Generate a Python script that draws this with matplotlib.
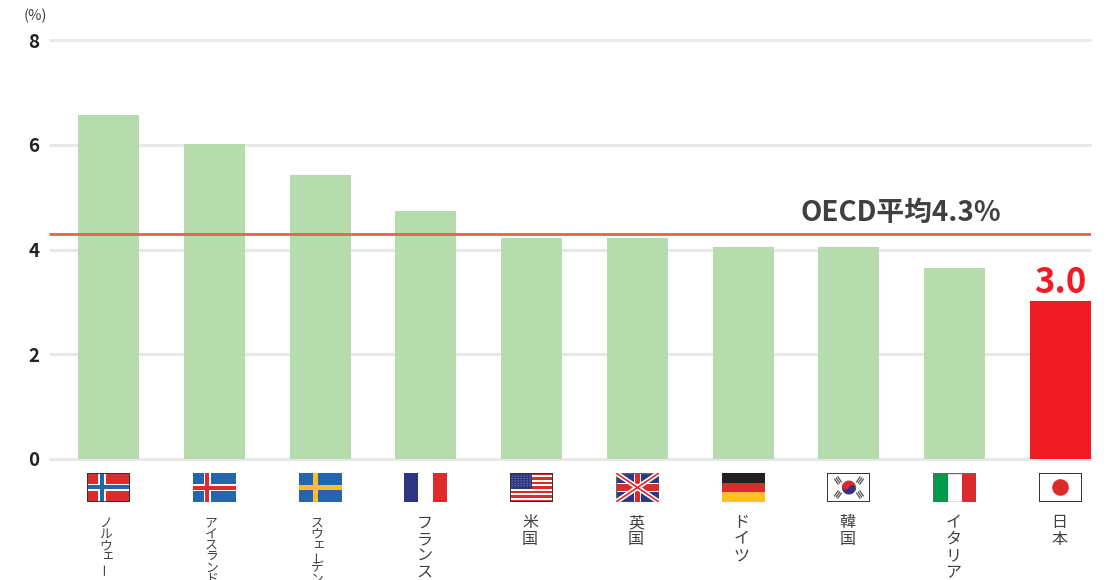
import numpy as np
import matplotlib
matplotlib.use('Agg')
import matplotlib.pyplot as plt
from matplotlib.patches import Rectangle, Circle, Wedge

plt.rcParams['font.family'] = ['Noto Sans CJK JP', 'DejaVu Sans']

countries = ['ノルウェー', 'アイスランド', 'スウェーデン', 'フランス', '米国',
             '英国', 'ドイツ', '韓国', 'イタリア', '日本']
values = [6.56, 6.01, 5.42, 4.73, 4.22, 4.22, 4.05, 4.05, 3.64, 3.01]
flags = ['no', 'is', 'se', 'fr', 'us', 'uk', 'de', 'kr', 'it', 'jp']
yticks = [0, 2, 4, 6, 8]
oecd_avg = 4.3
oecd_label = 'OECD平均4.3%'
japan_label = '3.0'
unit_label = '(%)'

GREEN = '#B6DBAD'
RED = '#EF1C25'
GRID = '#E8E8E8'
TEXT = '#404040'
FRED = '#DD2A2A'
FBLUE = '#2565AE'
NAVY = '#2E3683'
YEL = '#FCBF2A'
DARK = '#231F20'


def rect(a, x, y, w, h, c):
    a.add_patch(Rectangle((x, y), w, h, fc=c, ec='none'))


def draw_flag(a, code):
    # flag is drawn in 43x29 units
    if code == 'no':
        rect(a, 0, 0, 43, 29, FRED)
        rect(a, 11, 0, 8, 29, 'white')
        rect(a, 0, 11, 43, 7, 'white')
        rect(a, 13, 0, 4, 29, FBLUE)
        rect(a, 0, 12.8, 43, 3.8, FBLUE)
    elif code == 'is':
        rect(a, 0, 0, 43, 29, FBLUE)
        rect(a, 11, 0, 7, 29, 'white')
        rect(a, 0, 11, 43, 7, 'white')
        rect(a, 12.5, 0, 4, 29, FRED)
        rect(a, 0, 12.5, 43, 4, FRED)
    elif code == 'se':
        rect(a, 0, 0, 43, 29, FBLUE)
        rect(a, 14, 0, 5.5, 29, YEL)
        rect(a, 0, 12, 43, 5, YEL)
    elif code == 'fr':
        rect(a, 0, 0, 14, 29, NAVY)
        rect(a, 29, 0, 14, 29, FRED)
    elif code == 'us':
        rect(a, 0, 0, 43, 29, 'white')
        for k in range(0, 13, 2):
            rect(a, 0, 29 - (k + 1) * 29 / 13, 43, 29 / 13, FRED)
        rect(a, 0, 29 - 16, 22, 16, NAVY)
        for row in range(6):
            for col in range(7):
                a.add_patch(Circle((2 + col * 3, 15 + 1.3 + row * 2.4), 0.45, fc='#C8CCE8', ec='none'))
    elif code == 'uk':
        rect(a, 0, 0, 43, 29, NAVY)
        a.plot([0, 43], [0, 29], color='white', lw=3.6, solid_capstyle='butt')
        a.plot([0, 43], [29, 0], color='white', lw=3.6, solid_capstyle='butt')
        a.plot([0, 43], [0, 29], color=FRED, lw=1.2, solid_capstyle='butt')
        a.plot([0, 43], [29, 0], color=FRED, lw=1.2, solid_capstyle='butt')
        rect(a, 18, 0, 7, 29, 'white')
        rect(a, 0, 10, 43, 9, 'white')
        rect(a, 19, 0, 5, 29, FRED)
        rect(a, 0, 11, 43, 7, FRED)
    elif code == 'de':
        rect(a, 0, 19.4, 43, 9.6, DARK)
        rect(a, 0, 9.7, 43, 9.7, FRED)
        rect(a, 0, 0, 43, 9.7, YEL)
    elif code == 'kr':
        rect(a, 0, 0, 43, 29, 'white')
        a.add_patch(Wedge((21.5, 14.5), 7, -20, 160, fc=FRED, ec='none'))
        a.add_patch(Wedge((21.5, 14.5), 7, 160, 340, fc=NAVY, ec='none'))
        a.add_patch(Circle((18.2, 15.7), 3.5, fc=FRED, ec='none'))
        a.add_patch(Circle((24.8, 13.3), 3.5, fc=NAVY, ec='none'))
        for cx, cy, ang in [(10.5, 21.5, -55), (32.5, 21.5, 55), (10.5, 7.5, 55), (32.5, 7.5, -55)]:
            t = np.deg2rad(ang)
            ux, uy = np.cos(t), np.sin(t)
            for off in (-2, 0, 2):
                bx = cx + off * uy
                by = cy - off * ux
                a.plot([bx - 3 * ux, bx + 3 * ux], [by - 3 * uy, by + 3 * uy], color='#555555', lw=0.9)
    elif code == 'it':
        rect(a, 0, 0, 14.3, 29, '#009A4E')
        rect(a, 28.7, 0, 14.3, 29, FRED)
    elif code == 'jp':
        rect(a, 0, 0, 43, 29, 'white')
        a.add_patch(Circle((21.5, 14.5), 8.3, fc=FRED, ec='none'))
    if code in ('no', 'us', 'kr', 'jp'):
        a.add_patch(Rectangle((0, 0), 43, 29, fc='none', ec='#333333', lw=1.4))
    elif code in ('uk', 'it'):
        a.add_patch(Rectangle((0, 0), 43, 29, fc='none', ec='#666666', lw=1.0))


def vertical_label(ax, x, text, pitch, size, shift):
    # matplotlib has no vertical writing mode, so stack the characters
    for n, ch in enumerate(text):
        rot = 90 if ch == 'ー' else 0
        dx = shift + (1.5 if ch == 'ェ' else 0)
        ax.annotate(ch, xy=(x, 0), xycoords='data', xytext=(dx, -64 - n * pitch), textcoords='offset pixels',
                    ha='center', va='center', rotation=rot, fontsize=size, color=TEXT,
                    annotation_clip=False)


W, H = 1107, 580
fig = plt.figure(figsize=(W / 100, H / 100), dpi=100)
ax = fig.add_axes([49 / W, 1 - 459 / H, (1091 - 49) / W, (459 - 40) / H])
x = np.arange(len(countries))
ax.set_xlim((49 - 108.5) / 105.78, (1091 - 108.5) / 105.78)
ax.set_ylim(0, 8)

for s in ax.spines.values():
    s.set_visible(False)
ax.set_xticks([])
ax.set_yticks(yticks)
ax.tick_params(axis='y', length=0, pad=7, labelsize=13.5, labelcolor='#222222')
for lab in ax.get_yticklabels():
    lab.set_fontweight('bold')
for yt in yticks:
    ax.axhline(yt, color=GRID, lw=2.2, zorder=1, clip_on=False, solid_capstyle='butt')

colors = [GREEN] * (len(countries) - 1) + [RED]
ax.bar(x, values, width=0.577, color=colors, zorder=2, clip_on=False)
ax.axhline(oecd_avg, color='#E8604F', lw=2.0, zorder=3, solid_capstyle='butt')

fig.text(900.5 / W, 1 - 212.5 / H, oecd_label, ha='center', va='center', fontsize=20,
         fontweight='bold', color=TEXT)
fig.text(1060 / W, 1 - 282.5 / H, japan_label, ha='center', va='center', fontsize=25,
         fontweight='bold', color=RED)
fig.text(35.5 / W, 1 - 15.5 / H, unit_label, ha='center', va='center', fontsize=10.5, color=TEXT)

# flags, 43x29 px below the axis
for i, code in enumerate(flags):
    a = ax.inset_axes([i - 21.5 / 105.78, -(502 - 459) / 52.375, 43 / 105.78, 29 / 52.375],
                      transform=ax.transData)
    a.set_xlim(0, 43)
    a.set_ylim(0, 29)
    a.axis('off')
    draw_flag(a, code)

for i, name in enumerate(countries):
    if len(name) >= 5:
        vertical_label(ax, i, name, 11.3, 9.2, -3)
    else:
        vertical_label(ax, i, name, 16.5, 11.5, -1.5)

fig.savefig('out.png', dpi=100)
